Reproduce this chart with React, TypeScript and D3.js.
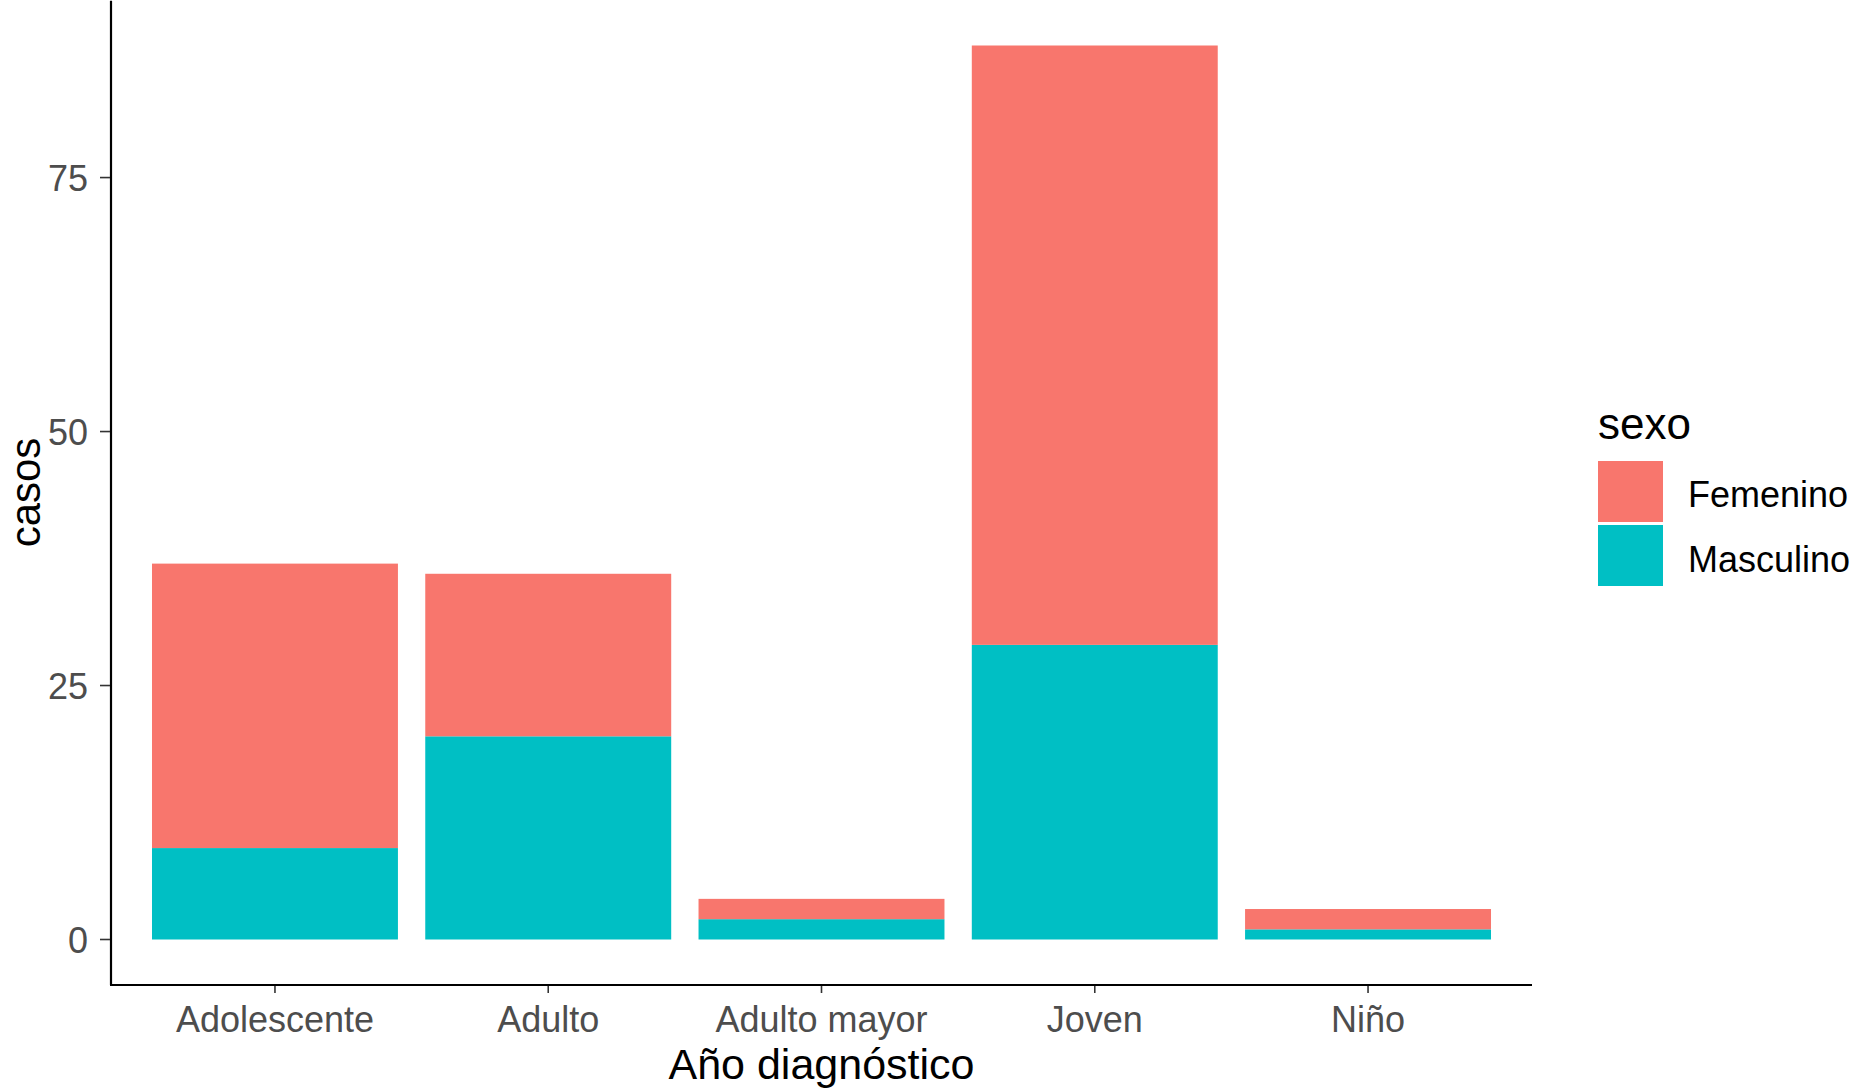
import React from "react";
import * as d3 from "d3";

const categories = ["Adolescente", "Adulto", "Adulto mayor", "Joven", "Niño"];
const femenino = [28, 16, 2, 59, 2];
const masculino = [9, 20, 2, 29, 1];
const seriesNames = ["Femenino", "Masculino"];
const seriesColors = ["#F8766D", "#00BFC4"];
const yTicks = [0, 25, 50, 75];
const xTitle = "Año diagnóstico";
const yTitle = "casos";
const legendTitle = "sexo";

const W = 1857;
const H = 1088;
const panel = { left: 111, right: 1532, top: 0.8, bottom: 984.2 };
const font = "Arial, 'Liberation Sans', sans-serif";

export default function App() {
  const totals = categories.map((_, i) => femenino[i] + masculino[i]);
  const maxT = d3.max(totals) as number;
  const ext = maxT * 0.05;
  const y = d3.scaleLinear().domain([-ext, maxT + ext]).range([panel.bottom, panel.top]);
  const x = d3
    .scaleLinear()
    .domain([0.4, categories.length + 0.6])
    .range([panel.left, panel.right]);
  const bw = x(0.9) - x(0);

  const stackData = categories.map((c, i) => ({ cat: c, Masculino: masculino[i], Femenino: femenino[i] }));
  const stack = d3.stack<any>().keys(["Masculino", "Femenino"])(stackData);

  return (
    <svg width={W} height={H} style={{ position: "absolute", left: 0, top: 0, display: "block", background: "#fff" }}>
      {stack.map((layer) => (
        <g key={layer.key} fill={seriesColors[seriesNames.indexOf(layer.key)]}>
          {layer.map((d, i) => (
            <rect
              key={i}
              x={x(i + 1) - bw / 2}
              width={bw}
              y={y(d[1])}
              height={y(d[0]) - y(d[1])}
            />
          ))}
        </g>
      ))}
      {/* axes */}
      <line x1={panel.left} x2={panel.left} y1={panel.top} y2={panel.bottom + 1} stroke="#000" strokeWidth={2.2} />
      <line x1={panel.left - 1} x2={panel.right} y1={985} y2={985} stroke="#000" strokeWidth={2.2} />
      {yTicks.map((t) => (
        <g key={t}>
          <line x1={100} x2={110} y1={y(t)} y2={y(t)} stroke="#333333" strokeWidth={1.6} />
          <text
            x={88}
            y={y(t)}
            dy="0.38em"
            textAnchor="end"
            fontFamily={font}
            fontSize={36}
            fill="#4D4D4D"
          >
            {t}
          </text>
        </g>
      ))}
      {categories.map((c, i) => (
        <g key={c}>
          <line x1={x(i + 1)} x2={x(i + 1)} y1={986} y2={993} stroke="#333333" strokeWidth={1.6} />
          <text x={x(i + 1)} y={1032} textAnchor="middle" fontFamily={font} fontSize={36} fill="#4D4D4D">
            {c}
          </text>
        </g>
      ))}
      <text x={(panel.left + panel.right) / 2} y={1079} textAnchor="middle" fontFamily={font} fontSize={43} fill="#000">
        {xTitle}
      </text>
      <text
        transform={`translate(40, ${(panel.top + panel.bottom) / 2}) rotate(-90)`}
        textAnchor="middle"
        fontFamily={font}
        fontSize={42}
        fill="#000"
      >
        {yTitle}
      </text>
      {/* legend */}
      <text x={1598} y={439} fontFamily={font} fontSize={44} fill="#000">
        {legendTitle}
      </text>
      {seriesNames.map((s, i) => (
        <g key={s}>
          <rect x={1598} y={461 + i * 64} width={65} height={61} fill={seriesColors[i]} />
          <text x={1688} y={507 + i * 65} fontFamily={font} fontSize={36} fill="#000">
            {s}
          </text>
        </g>
      ))}
    </svg>
  );
}
